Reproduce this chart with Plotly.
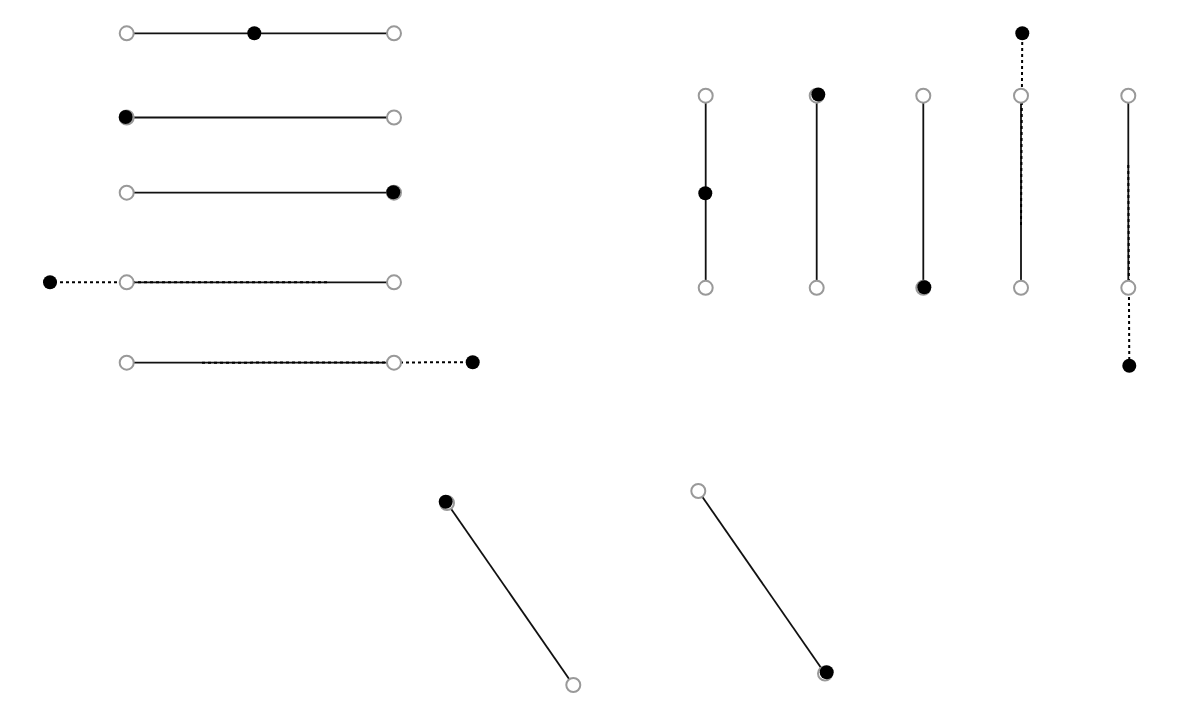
import plotly.graph_objects as go

# segment endpoints (screen-like units, y grows downward)
seg_x0 = [126.7, 126.7, 126.7, 126.7, 126.7, 705.7, 816.7, 923.3, 1021.0, 1128.3, 447.0, 698.3]
seg_y0 = [33.3, 117.5, 192.7, 282.3, 362.7, 95.7, 95.7, 95.7, 95.7, 95.7, 503.0, 491.0]
seg_x1 = [394.0, 394.0, 394.0, 394.0, 394.0, 705.7, 816.7, 923.3, 1021.0, 1128.3, 573.3, 825.0]
seg_y1 = [33.3, 117.5, 192.7, 282.3, 362.7, 287.8, 287.8, 287.8, 287.8, 287.8, 685.0, 673.5]

# closest points (black dots)
pt_x = [254.3, 125.7, 393.3, 50.0, 472.7, 705.3, 818.3, 924.3, 1022.3, 1129.3, 445.7, 826.7]
pt_y = [33.3, 117.0, 192.3, 282.3, 362.3, 193.3, 94.5, 287.3, 33.3, 365.7, 501.7, 672.3]

# dotted guides for points that fall outside their segment
guide_idx = [3, 4, 8, 9]
guide_x = [327.0, 202.0, 1021.0, 1128.3]
guide_y = [282.3, 362.7, 225.0, 165.0]

fig = go.Figure()

# solid segments
lx, ly = [], []
for a, b, c, d in zip(seg_x0, seg_y0, seg_x1, seg_y1):
    lx += [a, c, None]
    ly += [b, d, None]
fig.add_trace(go.Scatter(x=lx, y=ly, mode="lines",
                         line=dict(color="#111111", width=1.8),
                         hoverinfo="skip"))

# dotted guide lines
gx, gy = [], []
for i, x, y in zip(guide_idx, guide_x, guide_y):
    gx += [x, pt_x[i], None]
    gy += [y, pt_y[i], None]
fig.add_trace(go.Scatter(x=gx, y=gy, mode="lines",
                         line=dict(color="#000000", width=2, dash="dot"),
                         hoverinfo="skip"))

# open endpoint circles
fig.add_trace(go.Scatter(x=seg_x0 + seg_x1, y=seg_y0 + seg_y1, mode="markers",
                         marker=dict(size=14, color="white",
                                     line=dict(color="#999999", width=2))))

# closest points
fig.add_trace(go.Scatter(x=pt_x, y=pt_y, mode="markers",
                         marker=dict(size=14, color="black")))

# page body has an 8px margin, so the plot sits at (8, 8)
fig.update_layout(
    width=1162, height=692,
    margin=dict(l=0, r=0, t=0, b=0),
    showlegend=False,
    plot_bgcolor="white", paper_bgcolor="white",
    xaxis=dict(range=[8, 1170], visible=False, fixedrange=True),
    yaxis=dict(range=[700, 8], visible=False, fixedrange=True),
)

fig.write_html("out.html")
